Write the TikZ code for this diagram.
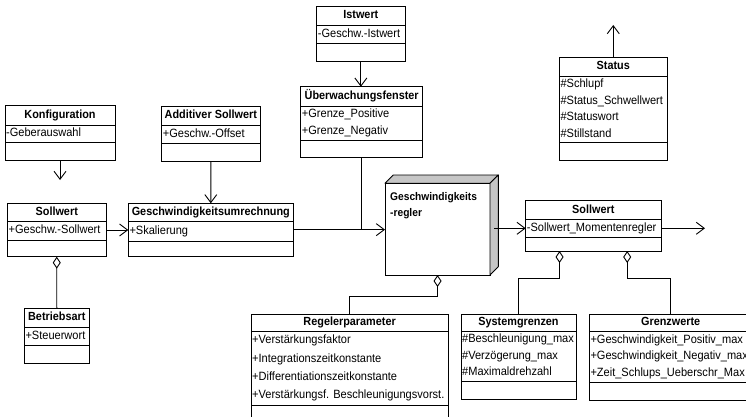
\documentclass[tikz,border=0pt]{standalone}
\usepackage{fontspec}
\setmainfont{Liberation Sans}[FakeStretch=0.92]
\usetikzlibrary{arrows.meta,calc}

\tikzset{
  classbox/.style={draw=black, line width=0.9pt, anchor=north west, inner sep=0pt, outer sep=0pt, fill=white},
  classline/.style={line width=0.9pt},
  titletext/.style={font=\fontsize{11.8}{14}\selectfont\bfseries, inner sep=0pt, text height=8.6pt, text depth=2.4pt},
  attrtext/.style={font=\fontsize{12}{14}\selectfont, inner sep=0pt, anchor=west, text height=8.6pt, text depth=2.4pt},
  link/.style={line width=0.9pt},
  navig/.style={link, -{Straight Barb[length=8pt,width=12pt]}},
  aggr/.style={link, {Diamond[open,length=12pt,width=8pt]}-},
  sideface/.style={fill=gray!45, draw=black, line width=0.9pt, line join=round},
}

% UML class: name, left, top, right, bottom, first separator, second separator, title, attributes
\newcommand\umlclass[9]{%
  \node[classbox, minimum width={(#4-#2)*1pt}, minimum height={(#5-#3)*1pt}] (#1) at (#2,#3) {};
  \draw[classline] (#2,#6) -- (#4,#6) (#2,#7) -- (#4,#7);
  \node[titletext] (#1-title) at ({(#2+#4)/2},{(#3+#6)/2}) {#8};
  \foreach \a [count=\i] in {#9} {\xdef\umlrows{\i}}
  \foreach \a [count=\i] in {#9} {
    \node[attrtext] (#1-a\i) at ({#2+1},{#6+(\i-0.5)*(#7-#6)/\umlrows}) {\a};
  }
}

\begin{document}
\begin{tikzpicture}[x=1pt, y=-1pt]
\useasboundingbox (0,0) rectangle (746,417);
\clip (0,0) rectangle (746,417);

% classes
\umlclass{ist}{316.7}{6.7}{405}{61.7}{25}{43}{Istwert}{-Geschw.-Istwert}
\umlclass{ueber}{300.7}{86.7}{422.7}{157}{106}{140}{Überwachungsfenster}{+Grenze\_Positive, +Grenze\_Negativ}
\umlclass{konf}{5}{105}{115}{160.7}{125}{142.7}{Konfiguration}{-Geberauswahl}
\umlclass{add}{161.7}{106.7}{260}{161.7}{125}{143.3}{Additiver Sollwert}{+Geschw.-Offset}
\umlclass{sollL}{7.5}{203.3}{106}{256.7}{221.7}{240}{Sollwert}{+Geschw.-Sollwert}
\umlclass{umr}{128.3}{203.3}{293.3}{256}{221.7}{241.7}{Geschwindigkeitsumrechnung}{+Skalierung}
\umlclass{betr}{24.3}{308}{89.3}{363.3}{327}{345}{Betriebsart}{+Steuerwort}
\umlclass{status}{559.3}{57.7}{667.3}{160.7}{76}{142.7}{Status}{\#Schlupf, \#Status\_Schwellwert, \#Statuswort, \#Stillstand}
\umlclass{sollR}{525.7}{200.7}{661}{251}{219.3}{237.3}{Sollwert}{-Sollwert\_Momentenregler}
\umlclass{regpar}{251}{314}{448.3}{430}{331.5}{405}{Regelerparameter}{+Verstärkungsfaktor, +Integrationszeitkonstante, +Differentiationszeitkonstante, +Verstärkungsf. Beschleunigungsvorst.}
\umlclass{sysg}{461}{314}{576}{399.3}{331.5}{381}{Systemgrenzen}{\#Beschleunigung\_max, \#Verzögerung\_max, \#Maximaldrehzahl}
\umlclass{grenz}{589.3}{314}{752}{400}{331.5}{382}{Grenzwerte}{+Geschwindigkeit\_Positiv\_max, +Geschwindigkeit\_Negativ\_max, +Zeit\_Schlups\_Ueberschr\_Max}

% controller component drawn as a box with depth
\node[classbox, minimum width=105pt, minimum height=91.7pt] (regler) at (385,183.3) {};
\filldraw[sideface] (regler.north west) -- ++(8.3,-8.3) -- ++(105,0) -- (regler.north east) -- cycle;
\filldraw[sideface] (regler.north east) -- ++(8.3,-8.3) -- ++(0,91.7) -- (regler.south east) -- cycle;
\node[font=\fontsize{11.1}{16.5}\selectfont\bfseries, align=left, anchor=north west, inner sep=0pt] (regler-text) at (390,192) {Geschwindigkeits\\-regler};

% free ends of outgoing connectors
\coordinate (konfend) at (60,180);
\coordinate (statusend) at (613.3,25);
\coordinate (sollRend) at (705,228.3);
\coordinate (reglerout) at ($(regler.east |- sollR-a1)+(4,0)$);

% connectors
\draw[navig] (ist.south) -- (ist.south |- ueber.north);
\draw[navig] (konf.south) -- (konfend);
\draw[aggr] (sollL.south) -- (betr.north);
\draw[navig] (sollL.east) -- (sollL.east -| umr.west);
\draw[navig] (add.south) -- (umr.north);
\draw[navig] (umr.east) -- (umr.east -| regler.west);
\draw[link] (ueber.south) -- (ueber.south |- umr.east);
\draw[navig] (reglerout) -- (sollR.west |- sollR-a1);
\draw[navig] (sollR.east |- sollR-a1) -- (sollRend);
\draw[navig] (status.north) -- (statusend);
\draw[aggr] (regler.south) -- ++(0,21.7) -| (regpar.north);
\draw[aggr] ($(sollR.south west)!0.25!(sollR.south east)$) -- ++(0,27.3) -| (sysg.north);
\draw[aggr] ($(sollR.south west)!0.75!(sollR.south east)$) -- ++(0,27.3) -| (grenz.north);
\end{tikzpicture}
\end{document}
